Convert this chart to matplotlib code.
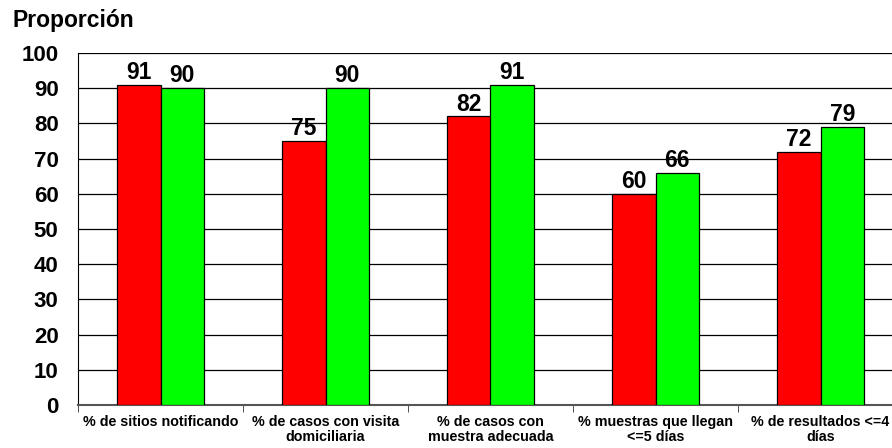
import matplotlib
matplotlib.use('Agg')
import matplotlib.pyplot as plt
import numpy as np

categories = ['% de sitios notificando', '% de casos con visita\ndomiciliaria',
              '% de casos con\nmuestra adecuada', '% muestras que llegan\n<=5 días',
              '% de resultados <=4\ndías']
red_vals = [91, 75, 82, 60, 72]
green_vals = [90, 90, 91, 66, 79]

plt.rcParams['font.family'] = ['Liberation Sans', 'DejaVu Sans']
plt.rcParams['font.weight'] = 'bold'

fig = plt.figure(figsize=(8.92, 4.48), dpi=100)
# axes extends slightly past the right edge, like the original crop
ax = fig.add_axes([78 / 892, (448 - 405) / 448, 825 / 892, 352 / 448])

x = np.arange(len(categories))
w = 0.265
ax.bar(x - w / 2, red_vals, w, color='#ff0000', edgecolor='black', linewidth=0.9, zorder=3)
ax.bar(x + w / 2, green_vals, w, color='#00ff00', edgecolor='black', linewidth=0.9, zorder=3)

for i in range(len(categories)):
    ax.text(x[i] - w / 2, red_vals[i] + 0.2, str(red_vals[i]), ha='center', va='bottom',
            fontsize=16.5, fontweight='bold')
    ax.text(x[i] + w / 2, green_vals[i] + 0.2, str(green_vals[i]), ha='center', va='bottom',
            fontsize=16.5, fontweight='bold')

ax.set_xlim(-0.5, 4.5)
ax.set_ylim(0, 100)
ax.set_yticks(range(0, 101, 10))
ax.yaxis.grid(True, color='black', linewidth=0.9, zorder=0)
ax.set_axisbelow(True)
ax.tick_params(axis='y', labelsize=16, length=0, pad=14)
for lab in ax.get_yticklabels():
    lab.set_fontweight('bold')

ax.set_xticks(x)
ax.set_xticklabels(categories, fontsize=10.3, fontweight='bold', linespacing=1.15)
ax.tick_params(axis='x', length=0, pad=7)
ax.set_xticks(np.arange(-0.5, 5.0, 1.0), minor=True)
ax.tick_params(axis='x', which='minor', length=5, direction='out', color='#333333')

ax.spines['top'].set_visible(False)
ax.spines['right'].set_visible(False)
ax.spines['left'].set_color('black')
ax.spines['bottom'].set_color('#555555')
ax.spines['bottom'].set_linewidth(1.5)

fig.text(12 / 892, 1 - 20 / 448, 'Proporción', fontsize=16.5, fontweight='bold',
         ha='left', va='center')

fig.savefig('out.png', dpi=100)
